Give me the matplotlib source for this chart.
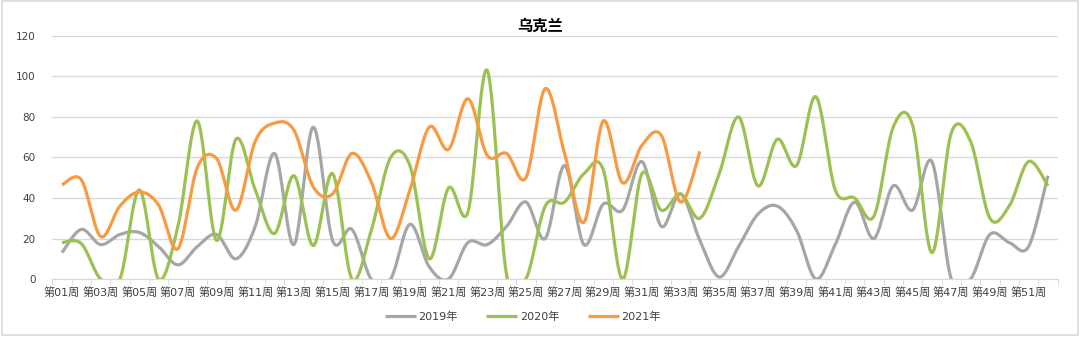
import numpy as np
import matplotlib
matplotlib.use("Agg")
import matplotlib.pyplot as plt
from matplotlib.patches import Rectangle
from matplotlib import font_manager as fm

plt.rcParams['font.family'] = ['DejaVu Sans', 'Noto Sans CJK SC']

names = {f.name for f in fm.fontManager.ttflist}
narrow = [n for n in ['Liberation Sans Narrow', 'DejaVu Sans Condensed'] if n in names]
tick_family = (narrow[:1] or ['DejaVu Sans']) + ['Noto Sans CJK SC']

weeks = [f"第{i:02d}周" for i in range(1, 53)]

v2019 = [13, 24.5, 17, 22, 23, 16, 7, 16, 22, 10, 26, 62, 17, 75, 19, 24.5,
         0, 0, 27, 6, 0, 18, 17, 26, 38, 20, 56, 17, 37, 34, 58, 26, 42, 19,
         1, 16, 32, 36, 24, 0, 17, 38, 20, 46, 34, 58, 0, 0, 22, 18, 16, 51]
v2020 = [18, 17.5, 0, 0, 44, 0, 26, 78, 19, 69, 44, 22.5, 51, 16.5, 52, 0,
         24, 60, 56, 10, 45, 33, 103, 2, 0, 36, 38, 52, 54, 0, 52, 34, 42, 30,
         52, 80, 46, 69, 56, 90, 44, 40, 31, 75, 76, 13, 72, 68, 30, 36, 58, 46]
v2021 = [46.5, 49, 21, 36, 43, 36.5, 15, 55, 59.5, 34, 68, 77, 73.5, 45.5, 42, 62,
         48, 20, 44, 75, 64, 89, 61, 62, 50, 94, 62, 28, 78, 47.5, 66, 71, 38, 63]

series = [("2019年", v2019, "#A6A6A6"),
          ("2020年", v2020, "#9BC152"),
          ("2021年", v2021, "#F79A42")]


def smooth(xs, ys, n=30):
    xs = np.asarray(xs, float)
    ys = np.asarray(ys, float)
    P = np.column_stack([xs, ys])
    out = [P[0]]
    m = len(P)
    t = np.linspace(0, 1, n)[1:, None]
    for k in range(m - 1):
        p0 = P[k - 1] if k > 0 else P[k]
        p1 = P[k]
        p2 = P[k + 1]
        p3 = P[k + 2] if k + 2 < m else P[k + 1]
        c1 = p1 + (p2 - p0) / 6.0
        c2 = p2 - (p3 - p1) / 6.0
        seg = ((1 - t) ** 3) * p1 + 3 * ((1 - t) ** 2) * t * c1 + 3 * (1 - t) * t ** 2 * c2 + t ** 3 * p2
        out.extend(seg)
    out = np.array(out)
    return out[:, 0], out[:, 1]


fig = plt.figure(figsize=(10.8, 3.37), dpi=100)
ax = fig.add_axes([0.0484, 0.1721, 0.9308, 0.7211])

for name, vals, col in series:
    x = np.arange(len(vals))
    sx, sy = smooth(x, vals)
    ax.plot(sx, sy, color=col, lw=2.3, label=name, solid_capstyle='butt')

ax.set_xlim(-0.5, 51.5)
ax.set_ylim(0, 120)
ax.set_yticks(range(0, 121, 20))
ax.yaxis.grid(True, color="#D9D9D9", lw=1)
ax.set_axisbelow(True)
for s in ['top', 'right', 'left']:
    ax.spines[s].set_visible(False)
ax.spines['bottom'].set_color("#D9D9D9")
ax.tick_params(axis='y', length=0, labelsize=7.5, labelcolor="#404040", pad=12)
ax.set_xticks(np.arange(0, 52, 2))
ax.set_xticklabels([weeks[i] for i in range(0, 52, 2)])
ax.set_xticks(np.arange(-0.5, 52, 1), minor=True)
ax.tick_params(axis='x', which='major', length=0, labelsize=8, labelcolor="#404040", pad=6)
ax.tick_params(axis='x', which='minor', length=4, color="#D9D9D9")
for lab in ax.get_xticklabels() + ax.get_yticklabels():
    lab.set_family(tick_family)

fig.text(0.5, 0.923, "乌克兰", ha='center', va='center', fontsize=11,
         fontweight='bold', family=['Noto Sans CJK SC', 'DejaVu Sans'], color="#000000")

leg = fig.legend(loc='center', bbox_to_anchor=(0.484, 0.059), ncol=3, frameon=False,
                 prop={'family': tick_family, 'size': 8}, handlelength=2.8,
                 columnspacing=2.6, handletextpad=0.2, labelcolor="#404040")

fig.patches.append(Rectangle((0.002, 0.006), 0.996, 0.99, transform=fig.transFigure,
                             fill=False, edgecolor="#D9D9D9", lw=1.2))

fig.savefig("out.png", dpi=100)
